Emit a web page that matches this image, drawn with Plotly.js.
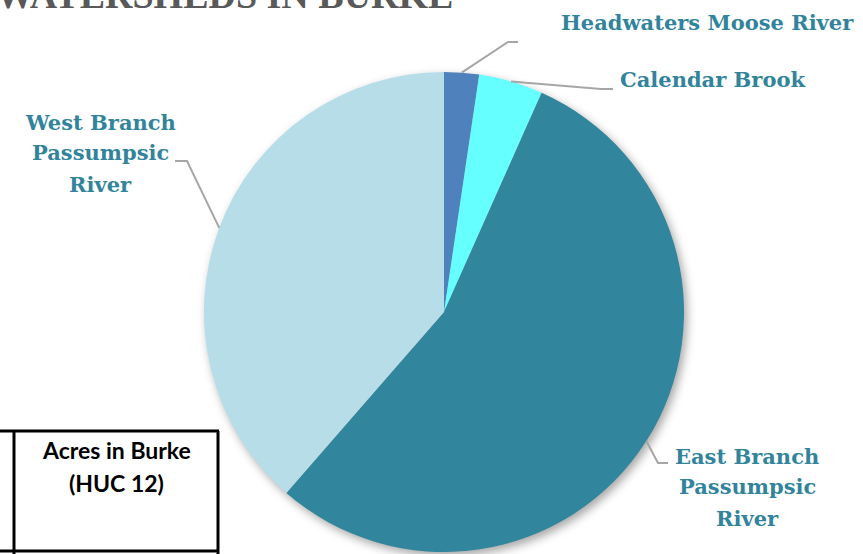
<!DOCTYPE html>
<html>
<head>
<meta charset="utf-8">
<script src="https://cdn.plot.ly/plotly-3.0.1.min.js"></script>
<style>
  html, body { margin: 0; padding: 0; background: #fff; }
  #chart { width: 863px; height: 554px; }
  .pielayer { filter: drop-shadow(3px 4px 5px rgba(0,0,0,0.35)); }
</style>
</head>
<body>
<div id="chart"></div>
<script>
// ---- data ----
const categories = ["Headwaters Moose River", "Calendar Brook", "East Branch Passumpsic River", "West Branch Passumpsic River"];
const acres = [510, 940, 11900, 8390];
const labelLines = [["Headwaters Moose River"], ["Calendar Brook"], ["East Branch", "Passumpsic", "River"], ["West Branch", "Passumpsic", "River"]];
const sliceColors = ["#4F81BD", "#66FFFF", "#31859C", "#B7DDE8"];
const titleText = "SUBWATERSHEDS IN BURKE";
const tableHeader = ["Acres in Burke", "(HUC 12)"];

// ---- geometry (pixels) ----
const W = 863, H = 554;
const cx = 444, cy = 312, R = 240;
const px = x => x / W;
const py = y => 1 - y / H;

// label placements (pixels): center x, first line y, line spacing
const labelPos = [
  {x: 707, y: 22, dy: 31},
  {x: 712, y: 79, dy: 31},
  {x: 747, y: 456, dy: 31},
  {x: 100, y: 122, dy: 31}
];
// leader elbows (pixels): [elbow, end]
const leaderPts = [
  [[508, 42], [518, 42]],
  [[601, 89], [613, 89]],
  [[658, 463], [668, 463]],
  [[187, 161], [175, 161]]
];

const total = acres.reduce((a, b) => a + b, 0);
let cum = 0;
const shapes = [];
const annotations = [];
acres.forEach((v, i) => {
  const mid = (cum + v / 2) / total * 2 * Math.PI;
  cum += v;
  const sx = cx + R * Math.sin(mid), sy = cy - R * Math.cos(mid);
  const [e, f] = leaderPts[i];
  shapes.push({
    type: "path", xref: "paper", yref: "paper",
    path: `M ${px(sx)} ${py(sy)} L ${px(e[0])} ${py(e[1])} L ${px(f[0])} ${py(f[1])}`,
    line: {color: "#A6A6A6", width: 2}
  });
  labelLines[i].forEach((t, k) => {
    annotations.push({
      text: "<b>" + t + "</b>", xref: "paper", yref: "paper",
      x: px(labelPos[i].x), y: py(labelPos[i].y + k * labelPos[i].dy),
      xanchor: "center", yanchor: "middle", showarrow: false,
      font: {family: "DejaVu Serif", size: 21, color: "#31849B"}
    });
  });
});

// title (cut off at top, as in the reference)
annotations.push({
  text: "<b>" + titleText + "</b>", xref: "paper", yref: "paper",
  x: px(455), y: py(18), xanchor: "right", yanchor: "bottom", showarrow: false,
  font: {family: "Liberation Serif", size: 38, color: "#595959"}
});

// table fragment
tableHeader.forEach((t, k) => {
  annotations.push({
    text: "<b>" + t + "</b>", xref: "paper", yref: "paper",
    x: px(116), y: py(450 + k * 33), xanchor: "center", yanchor: "middle", showarrow: false,
    font: {family: "Lato", size: 23, color: "#000"}
  });
});
const tl = {color: "#000", width: 3};
shapes.push({type: "line", xref: "paper", yref: "paper", x0: px(0), x1: px(219), y0: py(431), y1: py(431), line: tl});
shapes.push({type: "line", xref: "paper", yref: "paper", x0: px(0), x1: px(219), y0: py(551), y1: py(551), line: tl});
shapes.push({type: "line", xref: "paper", yref: "paper", x0: px(14), x1: px(14), y0: py(431), y1: py(560), line: tl});
shapes.push({type: "line", xref: "paper", yref: "paper", x0: px(218), x1: px(218), y0: py(431), y1: py(560), line: tl});

const trace = {
  type: "pie",
  labels: categories,
  values: acres,
  sort: false,
  direction: "clockwise",
  rotation: 0,
  textinfo: "none",
  hoverinfo: "label+value+percent",
  marker: {colors: sliceColors, line: {width: 0}},
  domain: {x: [px(cx - R), px(cx + R)], y: [py(cy + R), py(cy - R)]}
};

Plotly.newPlot("chart", [trace], {
  width: W, height: H,
  margin: {l: 0, r: 0, t: 0, b: 0},
  paper_bgcolor: "#fff",
  showlegend: false,
  shapes: shapes,
  annotations: annotations
}, {displayModeBar: false, staticPlot: true});
</script>
</body>
</html>
